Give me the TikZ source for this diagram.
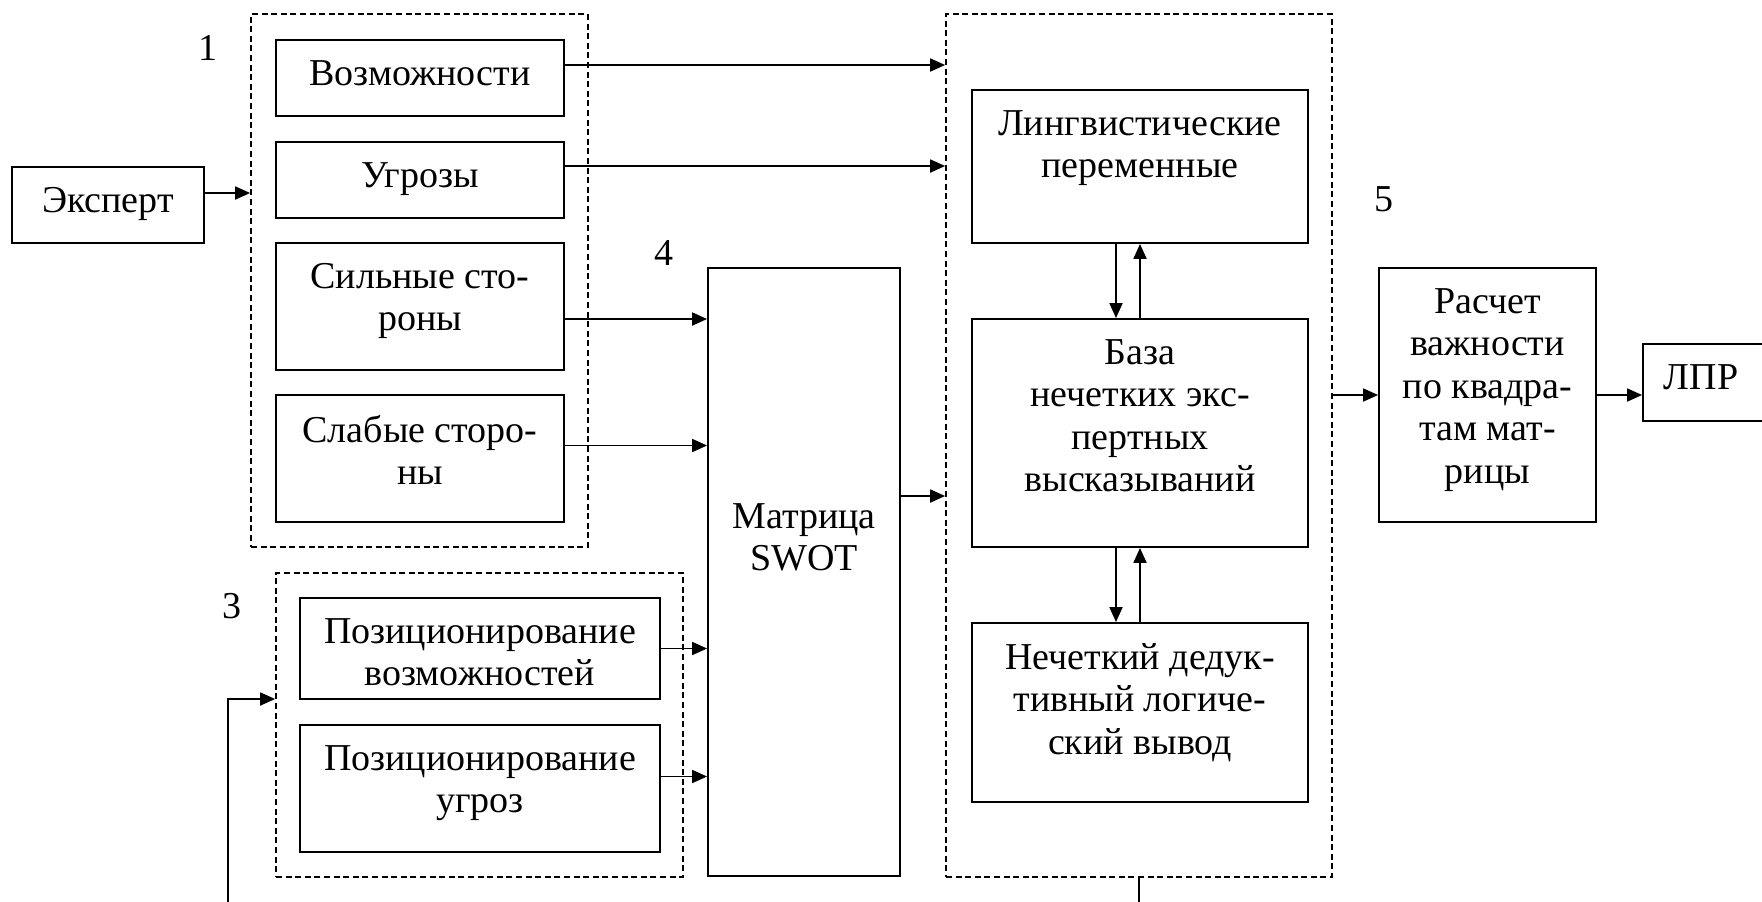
\documentclass[tikz,border=0pt]{standalone}
\usepackage{fontspec}
\setmainfont{Liberation Serif}
\usetikzlibrary{arrows.meta}

\tikzset{
  frame/.style={draw, line width=0.9pt, inner sep=0pt},
  lbl/.style={anchor=north, align=center, inner sep=0pt, yshift=-10.35pt},
  box/.style={frame, label={[lbl]north:#1}},
  grp/.style={draw, dash pattern=on 3pt off 1.8pt, line width=0.85pt},
  arr/.style={-{Triangle[length=7.5pt,width=6.5pt]}, line width=0.9pt},
}

\begin{document}
\begin{tikzpicture}[x=0.5pt, y=-0.5pt, font=\fontsize{19}{21.25}\selectfont]
\useasboundingbox (0,0) rectangle (1762,901);

% dashed groups
\node[grp, minimum width=168.5pt, minimum height=266.5pt] (grp1) at (419.5,280.5) {};
\node[grp, minimum width=203.5pt, minimum height=152pt] (grp3) at (479.5,725) {};
\node[grp, minimum width=193pt, minimum height=431.5pt] (grp5) at (1139,445.5) {};

\node (n1) at (208,48) {1};
\node (n3) at (232,606) {3};
\node (n4) at (664,253) {4};
\node (n5) at (1384,199) {5};

\node[box={Эксперт}, minimum width=96.25pt, minimum height=38pt] (expert) at (108,205) {};

\node[box={Возможности}, minimum width=144pt, minimum height=38pt] (vozm) at (420,78) {};
\node[box={Угрозы}, minimum width=144pt, minimum height=38pt] (ugr) at (420,180) {};
\node[box={Сильные сто-\\роны}, minimum width=144pt, minimum height=63.5pt] (silny) at (420,306.5) {};
\node[box={Слабые сторо-\\ны}, minimum width=144pt, minimum height=63.5pt] (slaby) at (420,458.5) {};

\node[box={Позиционирование\\возможностей}, minimum width=180pt, minimum height=50.5pt] (pozv) at (480,648.5) {};
\node[box={Позиционирование\\угроз}, minimum width=180pt, minimum height=63.5pt] (pozu) at (480,788.5) {};

\node[frame, label={[lbl, yshift=-107.65pt]north:Матрица\\SWOT}, minimum width=96pt, minimum height=304pt] (swot) at (804,572) {};

\node[box={Лингвистические\\переменные}, minimum width=168pt, minimum height=76.5pt] (ling) at (1140,166.5) {};
\node[box={База\\нечетких экс-\\пертных\\высказываний}, minimum width=168pt, minimum height=114pt] (baza) at (1140,433) {};
\node[box={Нечеткий дедук-\\тивный логиче-\\ский вывод}, minimum width=168pt, minimum height=89.5pt] (nech) at (1140,712.5) {};

\node[box={Расчет\\важности\\по квадра-\\там мат-\\рицы}, minimum width=108.5pt, minimum height=127pt] (rasch) at (1487.5,395) {};
\node[frame, label={[lbl, xshift=-5.25pt]north:ЛПР}, minimum width=68.5pt, minimum height=38.5pt] (lpr) at (1711.5,382.5) {};

\draw[arr] ([yshift=6pt]expert.east) -- ([yshift=6pt]expert.east -| grp1.west);
\draw[arr] ([yshift=6.5pt]vozm.east) -- ([yshift=6.5pt]vozm.east -| grp5.west);
\draw[arr] ([yshift=7pt]ugr.east) -- ([yshift=7pt]ugr.east -| grp5.west);
\draw[arr] ([yshift=-6.25pt]silny.east) -- ([yshift=-6.25pt]silny.east -| swot.west);
\draw[arr] ([yshift=6.5pt]slaby.east) -- ([yshift=6.5pt]slaby.east -| swot.west);
\draw[arr] (pozv.east) -- (pozv.east -| swot.west);
\draw[arr] ([yshift=6pt]pozu.east) -- ([yshift=6pt]pozu.east -| swot.west);
\draw[arr] ([yshift=38pt]swot.east) -- ([yshift=38pt]swot.east -| grp5.west);

\draw[arr] ([xshift=-12pt]ling.south) -- ([xshift=-12pt]baza.north);
\draw[arr] (baza.north) -- (ling.south);
\draw[arr] ([xshift=-12pt]baza.south) -- ([xshift=-12pt]nech.north);
\draw[arr] (nech.north) -- (baza.south);

\draw[arr] (rasch.west -| grp5.east) -- (rasch.west);
\draw[arr] (rasch.east) -- (rasch.east -| lpr.west);

% lines leaving the picture at the bottom
\coordinate (fb) at (228,905);
\draw[arr] (fb) |- ([yshift=13pt]grp3.west);
\coordinate (out) at (1139,905);
\draw[line width=0.9pt] (grp5.south) -- (out);
\end{tikzpicture}
\end{document}
